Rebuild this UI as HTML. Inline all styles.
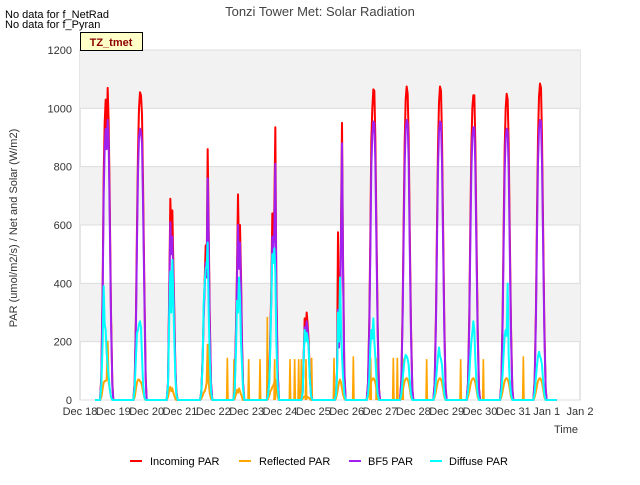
<!DOCTYPE html>
<html><head><meta charset="utf-8"><style>
body{margin:0;background:#fff;font-family:"Liberation Sans",sans-serif}
svg text{font-family:"Liberation Sans",sans-serif}
</style></head><body>
<svg id="chart" width="640" height="480" xmlns="http://www.w3.org/2000/svg">
<text x="5" y="18" font-size="11" fill="#000">No data for f_NetRad</text>
<text x="5" y="28" font-size="11" fill="#000">No data for f_Pyran</text>
<text x="320" y="16" font-size="13" fill="#444" text-anchor="middle">Tonzi Tower Met: Solar Radiation</text>
<g id="bands"></g>
<g id="grid"></g>
<g id="series"></g>
<g id="axes"></g>
<rect x="80.5" y="32.5" width="62" height="18" fill="#ffffc8" stroke="#000"/>
<text x="111" y="46" font-size="11" font-weight="bold" fill="#8b0000" text-anchor="middle">TZ_tmet</text>
<text transform="translate(17,228) rotate(-90)" font-size="11" fill="#333" text-anchor="middle">PAR (umol/m2/s) / Net and Solar (W/m2)</text>
<text x="566" y="433" font-size="11" fill="#333" text-anchor="middle">Time</text>
<g>
<line x1="130" y1="461" x2="142" y2="461" stroke="#ff0000" stroke-width="2"/>
<text x="150" y="465" font-size="11" fill="#000">Incoming PAR</text>
<line x1="239" y1="461" x2="251" y2="461" stroke="#ffa500" stroke-width="2"/>
<text x="259" y="465" font-size="11" fill="#000">Reflected PAR</text>
<line x1="349" y1="461" x2="361" y2="461" stroke="#a020f0" stroke-width="2"/>
<text x="368" y="465" font-size="11" fill="#000">BF5 PAR</text>
<line x1="430" y1="461" x2="442" y2="461" stroke="#00ffff" stroke-width="2"/>
<text x="449" y="465" font-size="11" fill="#000">Diffuse PAR</text>
</g>
</svg>
<script>
const dayLabels=["Dec 18","Dec 19","Dec 20","Dec 21","Dec 22","Dec 23","Dec 24","Dec 25","Dec 26","Dec 27","Dec 28","Dec 29","Dec 30","Dec 31","Jan 1","Jan 2"];
const yTicks=[0,200,400,600,800,1000,1200];
const sampleOffsets=[0.57,0.60,0.64,0.68,0.71,0.74,0.77,0.80,0.83,0.86,0.89,0.93,0.97,1.00];
const incoming=[
[0,0,80,400,770,950,1030,910,1070,950,700,300,60,0],
[0,0,60,300,600,850,1000,1055,1045,980,750,400,80,0],
[0,0,60,400,690,560,650,470,300,120,30,0,0,0],
[0,0,30,150,300,410,530,460,860,600,300,60,0,0],
[0,0,40,250,450,705,500,600,430,200,60,0,0,0],
[0,0,20,80,230,390,640,550,660,935,400,100,0,0],
[0,0,0,30,150,280,230,300,260,200,100,20,0,0],
[0,0,0,20,100,575,200,300,600,950,500,100,0,0],
[0,0,60,280,560,890,1000,1065,1060,900,620,260,40,0],
[0,0,70,320,620,880,1030,1075,1050,900,600,250,40,0],
[0,0,60,300,600,870,1020,1075,1060,900,620,260,40,0],
[0,0,60,300,600,860,1000,1045,1045,880,600,250,40,0],
[0,0,60,300,600,860,1000,1050,1030,880,600,250,40,0],
[0,0,70,320,640,900,1040,1085,1070,900,620,260,40,0]];
const bf5=[
[0,0,70,360,700,860,930,860,960,880,640,270,50,0],
[0,0,55,270,540,780,900,930,920,880,680,360,70,0],
[0,0,55,370,610,500,560,420,270,110,25,0,0,0],
[0,0,25,140,280,380,470,420,760,550,270,55,0,0],
[0,0,35,230,410,600,450,540,390,180,55,0,0,0],
[0,0,18,70,210,350,560,500,580,810,360,90,0,0],
[0,0,0,25,140,250,210,270,240,180,90,18,0,0],
[0,0,0,18,90,310,180,270,540,880,450,90,0,0],
[0,0,55,250,500,800,910,955,950,820,560,230,35,0],
[0,0,60,290,560,800,930,960,950,820,540,220,35,0],
[0,0,55,270,540,790,920,955,950,810,560,230,35,0],
[0,0,55,270,540,780,900,935,935,800,540,220,35,0],
[0,0,55,270,540,780,900,930,920,790,540,220,35,0],
[0,0,60,290,570,810,930,960,955,810,560,230,35,0]];
const diffuse=[
[0,0,50,200,390,260,240,160,120,80,40,10,0,0],
[0,0,40,150,230,240,260,270,250,150,60,10,0,0],
[0,0,50,300,440,300,480,350,200,80,20,0,0,0],
[0,0,25,130,330,400,450,460,540,300,150,30,0,0],
[0,0,30,170,340,300,420,350,200,120,40,0,0,0],
[0,0,15,60,180,350,500,470,520,440,200,50,0,0],
[0,0,0,25,140,240,200,230,210,180,80,15,0,0],
[0,0,0,15,80,300,200,420,260,150,80,20,0,0],
[0,0,20,80,180,240,210,280,200,150,80,20,0,0],
[0,0,20,70,110,140,155,150,140,120,70,20,0,0],
[0,0,20,70,110,150,180,150,140,120,70,20,0,0],
[0,0,30,90,150,200,230,270,240,140,70,20,0,0],
[0,0,30,90,160,220,240,220,400,150,70,20,0,0],
[0,0,25,80,120,150,165,150,140,120,70,20,0,0]];
const reflected=[
[0,0,10,40,60,65,65,70,200,60,40,10,0,0],
[0,0,10,40,60,70,70,65,60,50,30,8,0,0],
[0,0,10,35,45,30,40,25,15,5,0,0,0,0],
[0,0,5,15,25,30,40,60,190,60,25,5,0,0],
[0,0,5,20,35,25,40,30,20,10,0,0,0,0],
[0,0,5,15,30,35,45,50,60,70,40,10,0,0],
[0,0,0,5,10,12,15,12,10,8,5,0,0,0],
[0,0,0,5,20,40,60,70,60,40,20,5,0,0],
[0,0,10,30,50,65,70,75,70,60,40,10,0,0],
[0,0,10,30,50,65,72,75,70,60,40,10,0,0],
[0,0,10,30,50,65,72,75,70,60,40,10,0,0],
[0,0,10,30,50,65,72,75,70,60,40,10,0,0],
[0,0,10,30,50,65,72,75,70,60,40,10,0,0],
[0,0,10,30,50,65,72,75,70,60,40,10,0,0]];
const spikeTimes=[4.42,4.62,5.06,5.40,5.62,5.84,6.30,6.44,6.56,6.64,6.78,6.95,7.62,8.20,8.72,8.90,9.40,9.52,9.68,10.40,11.42,12.10,13.30];
const spikeValues=[145,140,140,140,285,140,140,140,140,140,140,145,145,150,145,145,145,145,145,140,140,140,150];

const NS="http://www.w3.org/2000/svg";
const X0=80,X1=580,Y0=400,Y1=50;
function xs(t){return X0+(X1-X0)*t/15;}
function ys(v){return Y0-(Y0-Y1)*v/1200;}
const bands=document.getElementById('bands'),grid=document.getElementById('grid'),axes=document.getElementById('axes'),series=document.getElementById('series');
const bg=document.createElementNS(NS,'rect');
bg.setAttribute('x',X0);bg.setAttribute('y',Y1);bg.setAttribute('width',X1-X0);bg.setAttribute('height',Y0-Y1);bg.setAttribute('fill','#fff');bg.setAttribute('stroke','#ccc');


bands.appendChild(bg);
for(let i=0;i<yTicks.length-1;i++){
  if(i===1||i===3||i===5){
    const r=document.createElementNS(NS,'rect');
    r.setAttribute('x',X0);r.setAttribute('y',ys(yTicks[i+1]));r.setAttribute('width',X1-X0);r.setAttribute('height',ys(yTicks[i])-ys(yTicks[i+1]));r.setAttribute('fill','#f2f2f2');
    
    
    bands.appendChild(r);
  }
}
yTicks.forEach(v=>{
  const l=document.createElementNS(NS,'line');
  l.setAttribute('x1',X0);l.setAttribute('x2',X1);l.setAttribute('y1',ys(v));l.setAttribute('y2',ys(v));l.setAttribute('stroke','#dcdcdc');
  
  
  grid.appendChild(l);
  const t=document.createElementNS(NS,'text');
  t.setAttribute('x',X0-8);t.setAttribute('y',ys(v)+4);t.setAttribute('font-size','11');t.setAttribute('fill','#333');t.setAttribute('text-anchor','end');
  t.textContent=v;
  
  
  axes.appendChild(t);
});
dayLabels.forEach((lab,i)=>{
  const t=document.createElementNS(NS,'text');
  t.setAttribute('x',xs(i));t.setAttribute('y',415);t.setAttribute('font-size','11');t.setAttribute('fill','#333');t.setAttribute('text-anchor','middle');
  t.textContent=lab;
  
  
  axes.appendChild(t);
});
function drawSeries(data,color,name){
  let pts=[];
  pts.push(xs(0.45)+','+ys(0));
  data.forEach((day,d)=>{day.forEach((v,i)=>{pts.push(xs(d+sampleOffsets[i]).toFixed(2)+','+ys(v).toFixed(2));});});
  pts.push(xs(14.3)+','+ys(0));
  const p=document.createElementNS(NS,'polyline');
  p.setAttribute('points',pts.join(' '));p.setAttribute('fill','none');p.setAttribute('stroke',color);p.setAttribute('stroke-width','2');p.setAttribute('stroke-linejoin','round');
  
  
  series.appendChild(p);
}
drawSeries(incoming,'#ff0000','incoming-par-line');
drawSeries(reflected,'#ffa500','reflected-par-line');
spikeTimes.forEach((t,i)=>{
  const p=document.createElementNS(NS,'polyline');
  p.setAttribute('points',xs(t-0.02)+','+ys(0)+' '+xs(t)+','+ys(spikeValues[i])+' '+xs(t+0.02)+','+ys(0));
  p.setAttribute('fill','none');p.setAttribute('stroke','#ffa500');p.setAttribute('stroke-width','1.6');
  
  
  series.appendChild(p);
});
drawSeries(bf5,'#a020f0','bf5-par-line');
drawSeries(diffuse,'#00ffff','diffuse-par-line');
</script>
</body></html>
